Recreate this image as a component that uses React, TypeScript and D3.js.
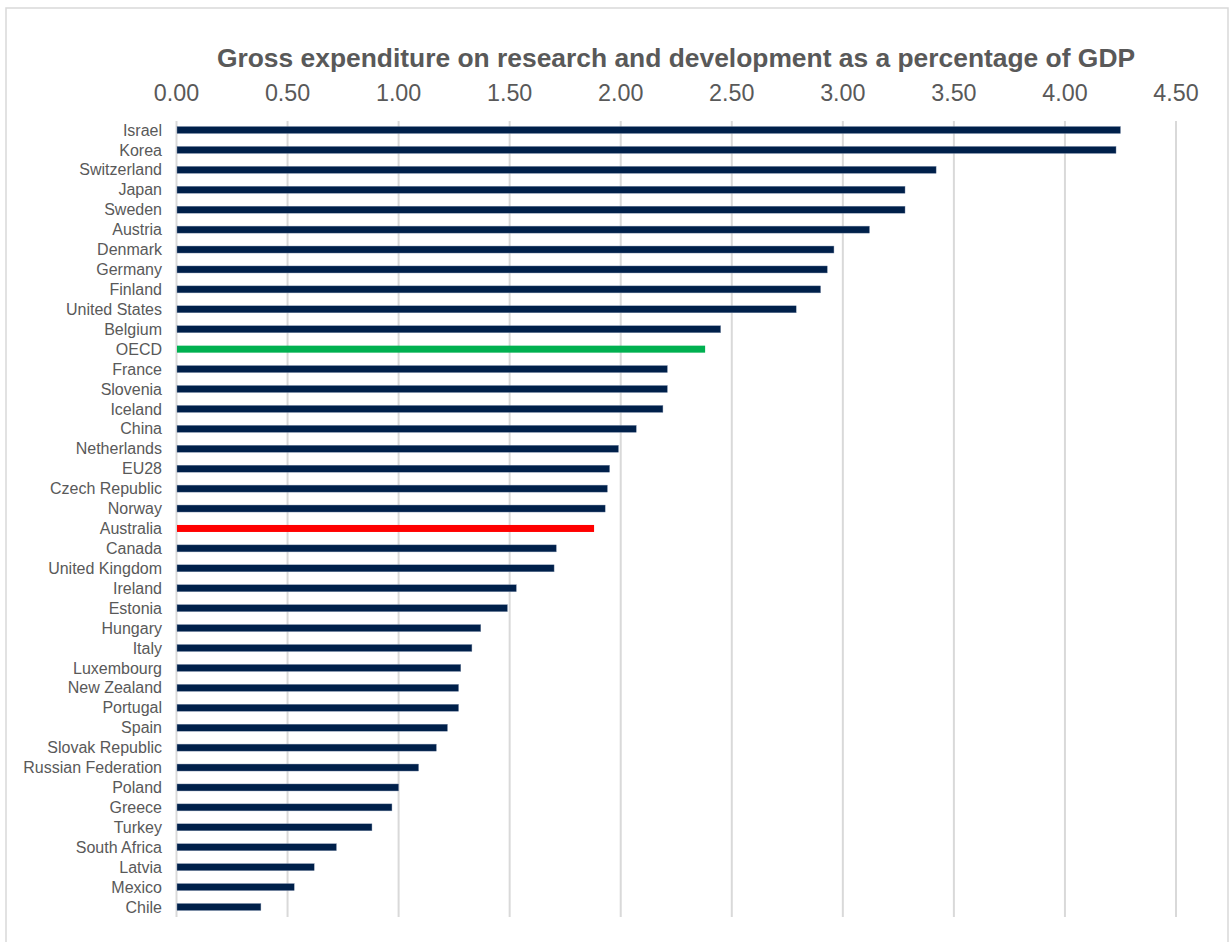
import { useEffect, useRef } from 'react';
import * as d3 from 'd3';

const countries = [
  'Israel', 'Korea', 'Switzerland', 'Japan', 'Sweden', 'Austria', 'Denmark', 'Germany',
  'Finland', 'United States', 'Belgium', 'OECD', 'France', 'Slovenia', 'Iceland', 'China',
  'Netherlands', 'EU28', 'Czech Republic', 'Norway', 'Australia', 'Canada', 'United Kingdom',
  'Ireland', 'Estonia', 'Hungary', 'Italy', 'Luxembourg', 'New Zealand', 'Portugal', 'Spain',
  'Slovak Republic', 'Russian Federation', 'Poland', 'Greece', 'Turkey', 'South Africa',
  'Latvia', 'Mexico', 'Chile',
];

const gerdShare = [
  4.25, 4.23, 3.42, 3.28, 3.28, 3.12, 2.96, 2.93,
  2.90, 2.79, 2.45, 2.38, 2.21, 2.21, 2.19, 2.07,
  1.99, 1.95, 1.94, 1.93, 1.88, 1.71, 1.70,
  1.53, 1.49, 1.37, 1.33, 1.28, 1.27, 1.27, 1.22,
  1.17, 1.09, 1.00, 0.97, 0.88, 0.72,
  0.62, 0.53, 0.38,
];

const xTicks = [0, 0.5, 1, 1.5, 2, 2.5, 3, 3.5, 4, 4.5];

const title = 'Gross expenditure on research and development as a percentage of GDP';

const W = 1229;
const H = 942;

export default function App() {
  const svgRef = useRef<SVGSVGElement>(null);

  useEffect(() => {
    document.body.style.margin = '0';
    if (!svgRef.current) return;

    const svg = d3.select(svgRef.current);
    svg.selectAll('*').remove();

    const font = '"Liberation Sans", Arial, sans-serif';
    const textColor = '#595959';

    // chart frame
    svg.append('rect')
      .attr('x', 6).attr('y', 8)
      .attr('width', 1222).attr('height', 960)
      .attr('fill', '#fff')
      .attr('stroke', '#d9d9d9')
      .attr('stroke-width', 1.5);

    const x = d3.scaleLinear().domain([0, 4.5]).range([176.5, 1176]);
    const y = d3.scalePoint<string>().domain(countries).range([130, 907]);

    const gridTop = 121;
    const gridBottom = 917;

    // grid
    svg.append('g')
      .selectAll('line')
      .data(xTicks)
      .join('line')
      .attr('x1', (d) => x(d)).attr('x2', (d) => x(d))
      .attr('y1', gridTop).attr('y2', gridBottom)
      .attr('stroke', '#d9d9d9')
      .attr('stroke-width', 2);

    // tick labels on top
    svg.append('g')
      .selectAll('text')
      .data(xTicks)
      .join('text')
      .attr('x', (d) => x(d))
      .attr('y', 100.5)
      .attr('text-anchor', 'middle')
      .attr('font-family', font)
      .attr('font-size', '23.3px')
      .attr('fill', textColor)
      .text((d) => d.toFixed(2));

    // title
    svg.append('text')
      .attr('x', 676)
      .attr('y', 67)
      .attr('text-anchor', 'middle')
      .attr('font-family', font)
      .attr('font-size', '26.4px')
      .attr('font-weight', 'bold')
      .attr('fill', textColor)
      .text(title);

    const data = countries.map((c, i) => ({ country: c, value: gerdShare[i] }));
    const barColor = (c: string) =>
      c === 'OECD' ? '#00b050' : c === 'Australia' ? '#ff0000' : '#00204a';

    // bars
    svg.append('g')
      .selectAll('rect')
      .data(data)
      .join('rect')
      .attr('x', x(0) + 0.5)
      .attr('y', (d) => y(d.country)! - 3.5)
      .attr('width', (d) => x(d.value) - x(0) - 0.5)
      .attr('height', 7)
      .attr('fill', (d) => barColor(d.country))
      .attr('stroke', (d) => (barColor(d.country) === '#00204a' ? '#7f90ab' : 'none'))
      .attr('stroke-width', 0.4);

    // category labels
    svg.append('g')
      .selectAll('text')
      .data(data)
      .join('text')
      .attr('x', 162)
      .attr('y', (d) => y(d.country)!)
      .attr('dy', '0.35em')
      .attr('text-anchor', 'end')
      .attr('font-family', font)
      .attr('font-size', '16px')
      .attr('fill', textColor)
      .text((d) => d.country);
  }, []);

  return (
    <div style={{ position: 'absolute', left: 0, top: 0 }}>
      <svg ref={svgRef} width={W} height={H} style={{ display: 'block' }} />
    </div>
  );
}
